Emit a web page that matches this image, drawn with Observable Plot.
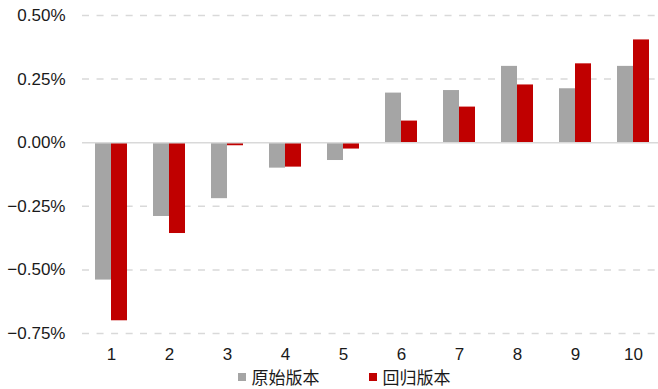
<!DOCTYPE html>
<html>
<head>
<meta charset="utf-8">
<script src="https://cdn.jsdelivr.net/npm/d3@7"></script>
<script src="https://cdn.jsdelivr.net/npm/@observablehq/plot@0.6"></script>
<style>
  body { margin: 0; background: #fff; font-family: "Liberation Sans", Arial, sans-serif; overflow: hidden; }
  #chart svg { overflow: hidden; }
  #legend { display: flex; justify-content: center; align-items: center; margin-left: 30px; margin-top: 1px; height: 19px; line-height: 19px;
    font-family: "Noto Sans CJK SC", sans-serif; font-size: 17px; color: #1a1a1a; }
  .item { display: flex; align-items: center; }
  .sw { width: 8px; height: 8px; margin-right: 6px; }
</style>
</head>
<body>
<div id="chart"></div>
<div id="legend"></div>
<script>
const groups = ["1","2","3","4","5","6","7","8","9","10"];
const seriesNames = ["原始版本", "回归版本"];
const original = [-0.54, -0.29, -0.22, -0.10, -0.07, 0.195, 0.205, 0.30, 0.212, 0.30];
const regression = [-0.70, -0.357, -0.012, -0.096, -0.025, 0.085, 0.14, 0.227, 0.31, 0.404];
const yTicks = [-0.0075, -0.005, -0.0025, 0, 0.0025, 0.005];
const colors = ["#a5a5a5", "#c00000"];

const data = [];
groups.forEach((g, i) => {
  data.push({group: g, series: seriesNames[0], value: original[i] / 100});
  data.push({group: g, series: seriesNames[1], value: regression[i] / 100});
});

const chart = Plot.plot({
  width: 658,
  height: 366,
  marginTop: 15,
  marginBottom: 33,
  marginLeft: 81,
  marginRight: -5,
  style: {fontFamily: "'Liberation Sans', Arial, sans-serif", fontSize: "17px", color: "#1a1a1a", background: "#fff"},
  fx: {domain: groups, padding: 0, tickSize: 0, tickPadding: 14, label: null, axis: "bottom"},
  x: {domain: seriesNames, paddingInner: 0, paddingOuter: 0.76, axis: null},
  y: {domain: [-0.0075, 0.005], ticks: yTicks, tickFormat: d3.format(".2%"), tickSize: 0, tickPadding: 17, label: null},
  color: {domain: seriesNames, range: colors},
  marks: [
    Plot.ruleY(yTicks.filter(d => d !== 0), {stroke: "#d9d9d9", strokeWidth: 1.5, strokeDasharray: "7,7.55"}),
    Plot.barY(data, {fx: "group", x: "series", y: "value", fill: "series"}),
    Plot.ruleY([0], {stroke: "#d9d9d9", strokeWidth: 1.5})
  ]
});
document.getElementById("chart").appendChild(chart);

const legend = document.getElementById("legend");
seriesNames.forEach((s, i) => {
  const item = document.createElement("div");
  item.className = "item";
  if (i > 0) item.style.marginLeft = "49px";
  const sw = document.createElement("div");
  sw.className = "sw";
  sw.style.background = colors[i];
  const t = document.createElement("span");
  t.textContent = s;
  item.appendChild(sw);
  item.appendChild(t);
  legend.appendChild(item);
});
</script>
</body>
</html>
